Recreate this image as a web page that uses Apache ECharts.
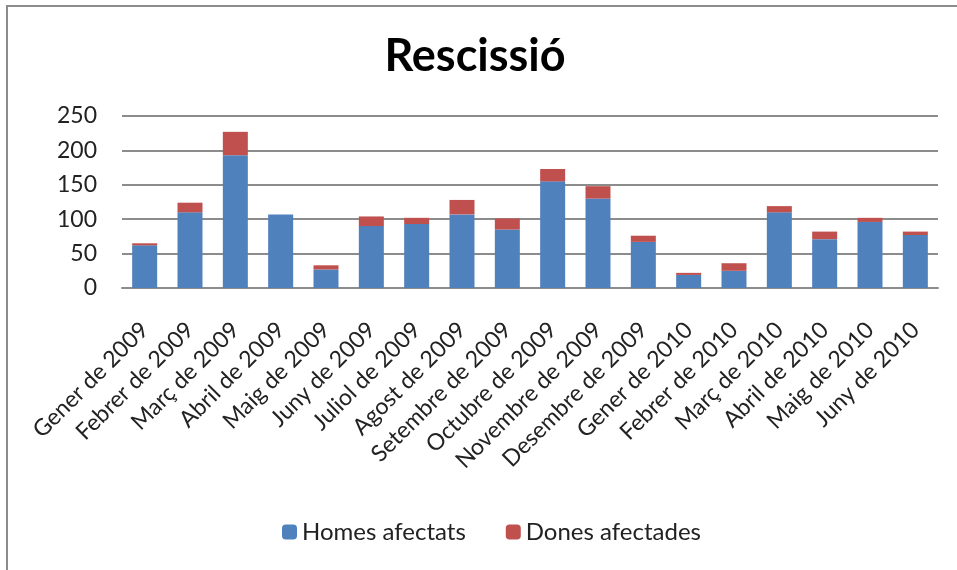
<!DOCTYPE html>
<html>
<head>
<meta charset="utf-8">
<script src="https://cdn.jsdelivr.net/npm/echarts@6/dist/echarts.min.js"></script>
<style>
  html, body { margin: 0; padding: 0; background: #fff; }
  .frame {
    position: absolute;
    left: 6px;
    top: 5px;
    width: 960px;
    height: 580px;
    border-left: 2px solid #8c8c8c;
    border-top: 2px solid #8c8c8c;
  }
  #chart { position: absolute; left: 0; top: 0; width: 957px; height: 570px; }
</style>
</head>
<body>
<div class="frame"></div>
<div id="chart"></div>
<script>
const months = [
  'Gener de 2009', 'Febrer de 2009', 'Març de 2009', 'Abril de 2009', 'Maig de 2009',
  'Juny de 2009', 'Juliol de 2009', 'Agost de 2009', 'Setembre de 2009', 'Octubre de 2009',
  'Novembre de 2009', 'Desembre de 2009', 'Gener de 2010', 'Febrer de 2010', 'Març de 2010',
  'Abril de 2010', 'Maig de 2010', 'Juny de 2010'
]
const homes = [62, 110, 193, 107, 27, 90, 93, 107, 85, 155, 130, 67, 19, 25, 110, 71, 96, 77]
const dones = [3, 14, 34, 0, 6, 14, 9, 21, 16, 18, 18, 9, 3, 11, 9, 11, 6, 5]

const font = 'Lato'
const chart = echarts.init(document.getElementById('chart'))

const option = {
  animation: false,
  title: {
    text: 'Rescissió',
    left: 470,
    top: 29,
    textAlign: 'center',
    textStyle: { fontFamily: font, fontWeight: 'bold', fontSize: 45, color: '#000' }
  },
  legend: {
    bottom: 21,
    left: 277,
    itemWidth: 15,
    itemHeight: 15,
    itemGap: 40,
    textStyle: { fontFamily: font, fontSize: 24, color: '#222' },
    data: ['Homes afectats', 'Dones afectades']
  },
  grid: {
    left: 122,
    right: 19,
    top: 116,
    bottom: 282
  },
  xAxis: {
    type: 'category',
    data: months,
    axisLine: { lineStyle: { color: '#8c8c8c', width: 2 } },
    axisTick: { show: false },
    axisLabel: {
      rotate: 45,
      interval: 0,
      margin: 38,
      fontFamily: font,
      fontSize: 23,
      color: '#222'
    }
  },
  yAxis: {
    type: 'value',
    min: 0,
    max: 250,
    interval: 50,
    axisLine: { show: false },
    axisTick: { show: false },
    splitLine: { lineStyle: { color: '#8c8c8c', width: 2 } },
    axisLabel: { fontFamily: font, fontSize: 23, color: '#222', margin: 25 }
  },
  series: [
    {
      name: 'Homes afectats',
      type: 'bar',
      stack: 'total',
      barWidth: 25,
      itemStyle: { color: '#4f81bd' },
      data: homes
    },
    {
      name: 'Dones afectades',
      type: 'bar',
      stack: 'total',
      barWidth: 25,
      itemStyle: { color: '#c0504d' },
      data: dones
    }
  ]
}

chart.setOption(option)
</script>
</body>
</html>
